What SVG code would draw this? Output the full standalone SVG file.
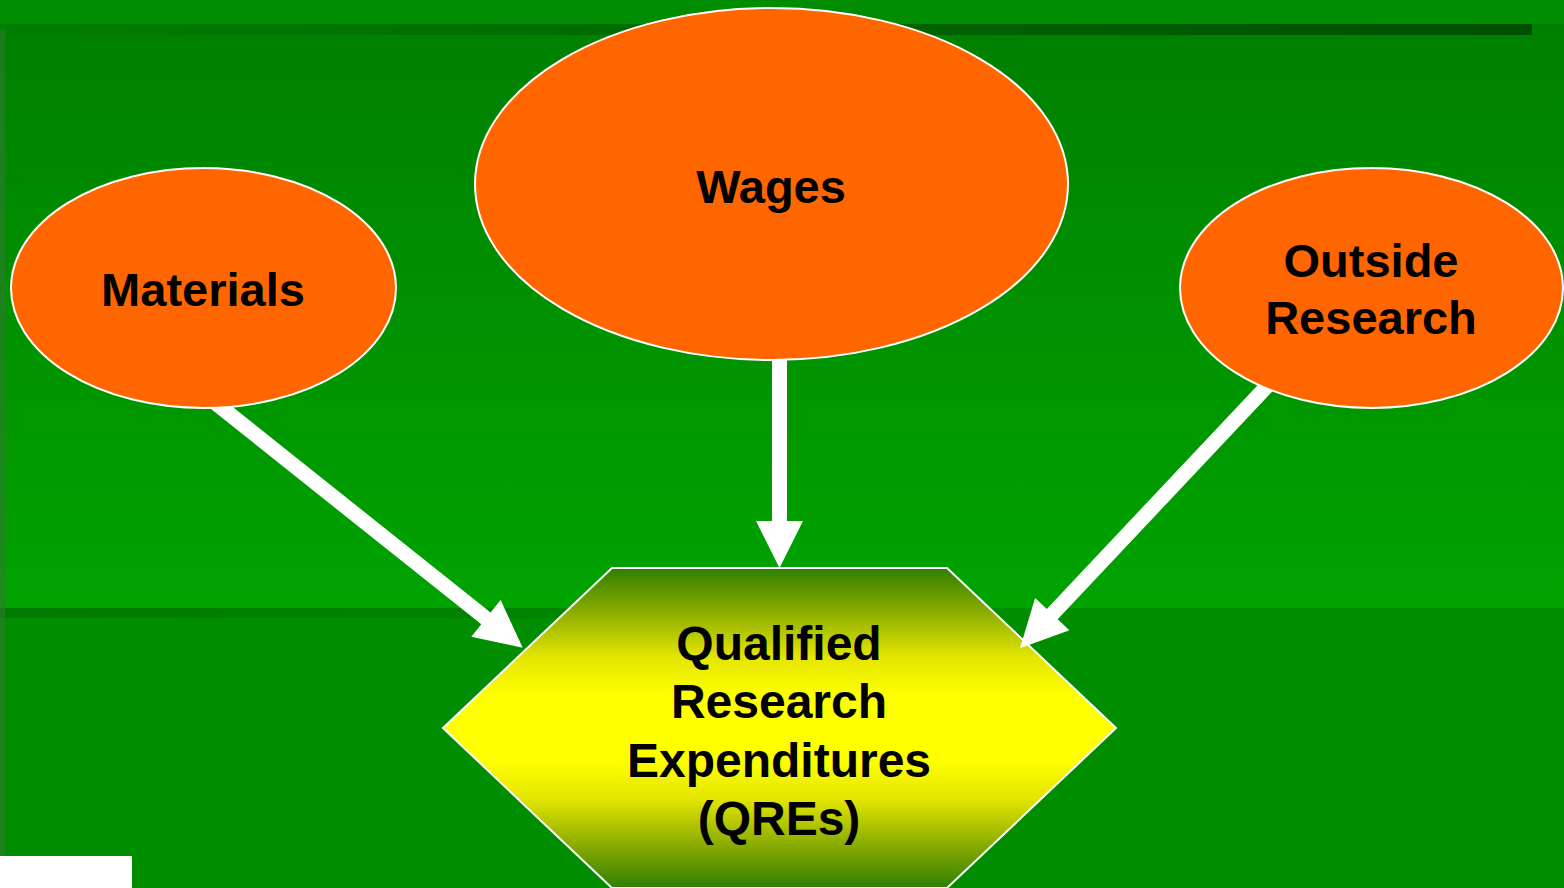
<svg xmlns="http://www.w3.org/2000/svg" width="1564" height="888" viewBox="0 0 1564 888">
  <defs>
    <linearGradient id="bgMain" x1="0" y1="35" x2="0" y2="608" gradientUnits="userSpaceOnUse">
      <stop offset="0" stop-color="#008000"/>
      <stop offset="1" stop-color="#00A300"/>
    </linearGradient>
    <linearGradient id="topBand" x1="0" y1="0" x2="1532" y2="0" gradientUnits="userSpaceOnUse">
      <stop offset="0" stop-color="#007E00"/>
      <stop offset="1" stop-color="#004F00"/>
    </linearGradient>
    <linearGradient id="midBand" x1="0" y1="0" x2="1100" y2="0" gradientUnits="userSpaceOnUse">
      <stop offset="0" stop-color="#007A00"/>
      <stop offset="1" stop-color="#008E00"/>
    </linearGradient>
    <linearGradient id="hexFill" x1="0" y1="568" x2="0" y2="888" gradientUnits="userSpaceOnUse">
      <stop offset="0" stop-color="#2E7F00"/>
      <stop offset="0.12" stop-color="#80A600"/>
      <stop offset="0.28" stop-color="#E4E600"/>
      <stop offset="0.4" stop-color="#FFFF00"/>
      <stop offset="0.6" stop-color="#FFFF00"/>
      <stop offset="0.72" stop-color="#E4E600"/>
      <stop offset="0.88" stop-color="#80A600"/>
      <stop offset="1" stop-color="#2E7F00"/>
    </linearGradient>
    <style>
      .oval { fill: #FF6600; stroke: #FFFFFF; stroke-width: 2; }
      .hex { fill: url(#hexFill); stroke: #FFFFFF; stroke-width: 2; }
      .arrow { fill: #FFFFFF; stroke: none; }
      .label { font-family: "Liberation Sans", Arial, sans-serif; font-weight: bold; font-size: 47px; fill: #000000; text-anchor: middle; }
      .hex-label { font-size: 48px; }
    </style>
  </defs>

  <!-- background -->
  <g id="background">
    <rect x="0" y="0" width="1564" height="888" fill="#008E00"/>
    <rect x="0" y="0" width="1564" height="24" fill="#008C00"/>
    <rect x="0" y="24" width="1564" height="584" fill="url(#bgMain)"/>
    <rect x="0" y="24" width="1532" height="11" fill="url(#topBand)"/>
    <rect x="0" y="608" width="1564" height="10" fill="url(#midBand)"/>
    <rect x="0" y="618" width="1564" height="270" fill="#008E00"/>
    <rect x="0" y="29" width="5" height="859" fill="#2E7A2E" opacity="0.6"/>
    <rect x="0" y="856" width="132" height="32" fill="#FFFFFF"/>
  </g>

  <!-- target node -->
  <g id="node-qres">
    <polygon class="hex" points="612,568 947,568 1116,728 947,888 612,888 443,728"/>
    <text class="label hex-label" x="779" y="660">Qualified</text>
    <text class="label hex-label" x="779" y="718">Research</text>
    <text class="label hex-label" x="779" y="777">Expenditures</text>
    <text class="label hex-label" x="779" y="835">(QREs)</text>
  </g>

  <!-- connectors -->
  <g id="connectors">
    <polygon class="arrow" points="210.7,389.5 490.6,612.5 500.6,600 522.7,647.7 471.3,636.8 481.3,624.3 201.3,401.3"/>
    <polygon class="arrow" points="772,350 787,350 787,521 803,521 779.5,568 756,521 772,521"/>
    <polygon class="arrow" points="1264.9,377.5 1046.8,608.9 1035.1,598 1020,648.3 1069.4,630.2 1057.7,619.2 1275.9,387.7"/>
  </g>

  <!-- source nodes -->
  <g id="node-materials">
    <ellipse class="oval" cx="203.5" cy="288" rx="192.5" ry="120"/>
    <text class="label" x="203" y="306">Materials</text>
  </g>
  <g id="node-wages">
    <ellipse class="oval" cx="771.5" cy="184" rx="296.5" ry="176"/>
    <text class="label" x="771" y="203">Wages</text>
  </g>
  <g id="node-outside-research">
    <ellipse class="oval" cx="1371.5" cy="288" rx="191.5" ry="120"/>
    <text class="label" x="1371" y="277">Outside</text>
    <text class="label" x="1371" y="334">Research</text>
  </g>
</svg>
